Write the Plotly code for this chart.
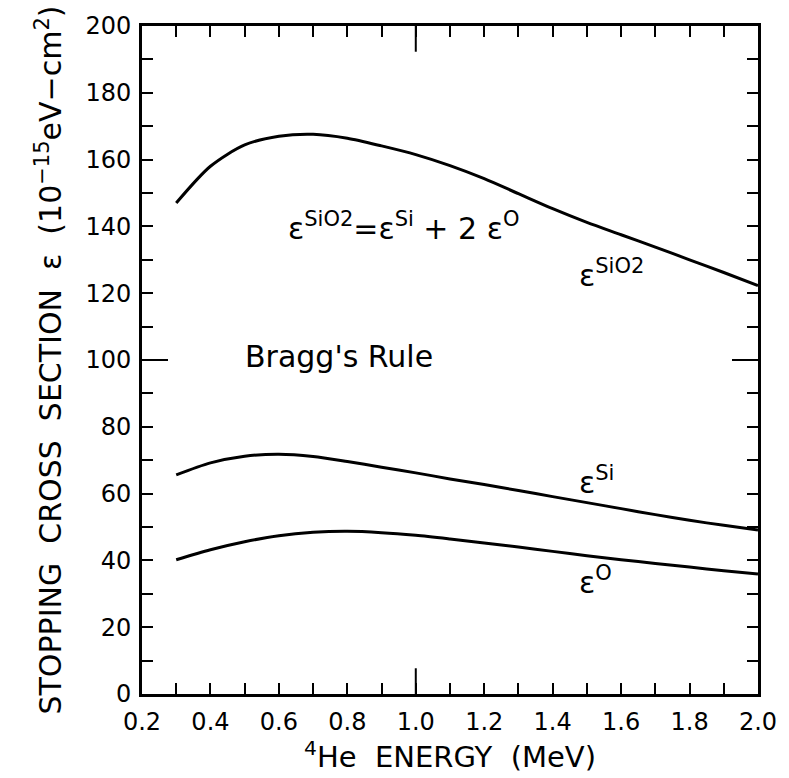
import plotly.graph_objects as go

# 4He stopping cross sections (10^-15 eV-cm^2) versus energy (MeV)
energy = [0.3, 0.4, 0.5, 0.6, 0.7, 0.8, 0.9, 1.0, 1.1, 1.2, 1.3, 1.4, 1.5, 1.6, 1.7, 1.8, 1.9, 2.0]
eps_sio2 = [147.0, 158.0, 164.4, 167.0, 167.6, 166.4, 164.1, 161.5, 158.2, 154.3, 149.8, 145.3, 141.2, 137.5, 133.8, 130.0, 126.2, 122.3]
eps_si = [65.6, 69.2, 71.2, 71.8, 71.1, 69.6, 67.9, 66.2, 64.4, 62.7, 60.9, 59.1, 57.3, 55.5, 53.7, 52.0, 50.5, 49.1]
eps_o = [40.2, 43.2, 45.6, 47.4, 48.4, 48.7, 48.3, 47.5, 46.4, 45.2, 44.0, 42.7, 41.4, 40.2, 39.1, 38.0, 36.9, 35.9]

x_range = [0.2, 2.0]
y_range = [0, 200]
x_long_tick = 1.0     # emphasised tick on the energy axis
y_long_tick = 100     # emphasised tick on the cross-section axis

FONT = "DejaVu Sans"
INK = "black"

WIDTH, HEIGHT = 789, 778
MARGIN = dict(l=142, r=31, t=19, b=84)
TICK_LEN = 11
LONG_TICK_LEN = 26

fig = go.Figure()
for ys in (eps_sio2, eps_si, eps_o):
    fig.add_trace(go.Scatter(x=energy, y=ys, mode="lines",
                             line=dict(color=INK, width=3, shape="spline", smoothing=0.8),
                             showlegend=False, hoverinfo="skip"))

tick_common = dict(ticks="inside", ticklen=TICK_LEN, tickwidth=2, tickcolor=INK,
                   showline=True, linecolor=INK, linewidth=3, mirror="allticks",
                   showgrid=False, zeroline=False,
                   tickfont=dict(family=FONT, size=24, color=INK))

fig.update_layout(
    width=WIDTH, height=HEIGHT,
    margin=MARGIN,
    paper_bgcolor="white", plot_bgcolor="white",
    xaxis=dict(range=x_range, dtick=0.2, tick0=0.2, tickformat=".1f", ticklabelstandoff=4,
               minor=dict(dtick=0.1, ticks="inside", ticklen=TICK_LEN, tickwidth=2, tickcolor=INK),
               title=dict(text="<sup>4</sup>He  ENERGY  (MeV)", standoff=6,
                          font=dict(family=FONT, size=29, color=INK)),
               **tick_common),
    yaxis=dict(range=y_range, dtick=20, tick0=0, ticklabelstandoff=3,
               minor=dict(dtick=10, ticks="inside", ticklen=TICK_LEN, tickwidth=2, tickcolor=INK),
               title=dict(text="STOPPING  CROSS  SECTION  ε  (10<sup>−15</sup>eV−cm<sup>2</sup>)",
                          standoff=15, font=dict(family=FONT, size=30, color=INK)),
               **tick_common),
)

# longer inside ticks at 1.0 MeV and 100 on all four sides of the frame
plot_w = WIDTH - MARGIN["l"] - MARGIN["r"]
plot_h = HEIGHT - MARGIN["t"] - MARGIN["b"]
fx = LONG_TICK_LEN / plot_w
fy = LONG_TICK_LEN / plot_h
tick_line = dict(color=INK, width=2)
for y0, y1 in ((0, fy), (1, 1 - fy)):
    fig.add_shape(type="line", xref="x", yref="y domain", x0=x_long_tick, x1=x_long_tick,
                  y0=y0, y1=y1, line=tick_line)
for x0, x1 in ((0, fx), (1, 1 - fx)):
    fig.add_shape(type="line", xref="x domain", yref="y", x0=x0, x1=x1,
                  y0=y_long_tick, y1=y_long_tick, line=tick_line)

ann_font = dict(family=FONT, size=30, color=INK)
labels = [
    (0.62, 140, "ε<sup>SiO2</sup>=ε<sup>Si</sup> + 2 ε<sup>O</sup>", "left"),
    (1.47, 126, "ε<sup>SiO2</sup>", "left"),
    (0.776, 101, "Bragg's Rule", "center"),
    (1.47, 64, "ε<sup>Si</sup>", "left"),
    (1.47, 34, "ε<sup>O</sup>", "left"),
]
for x, y, text, anchor in labels:
    fig.add_annotation(x=x, y=y, text=text, showarrow=False, xanchor=anchor,
                       yanchor="middle", font=ann_font)

fig.write_html("out.html")
